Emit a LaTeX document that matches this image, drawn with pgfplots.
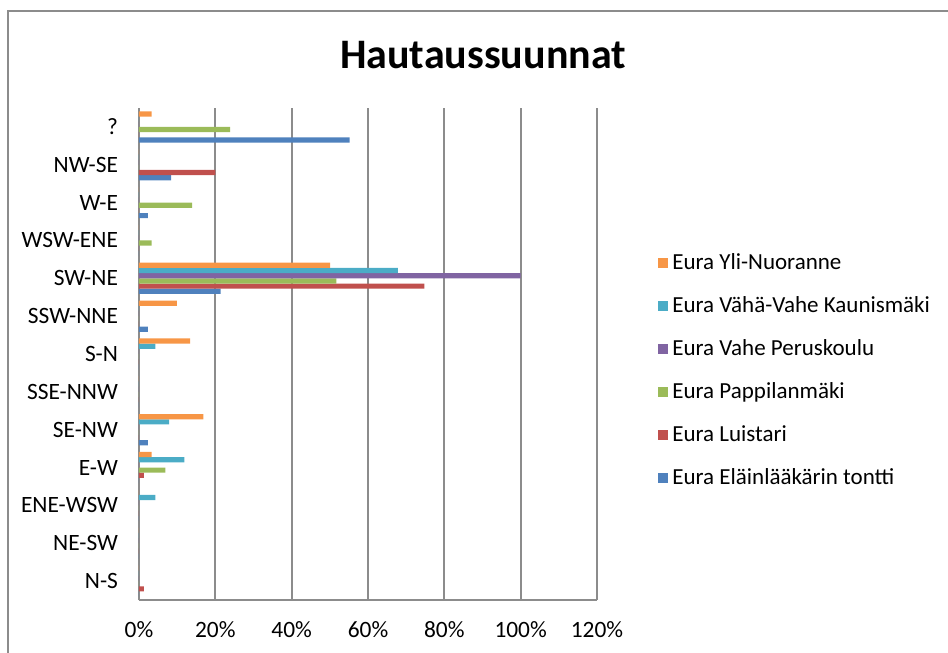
\documentclass[border=0pt]{standalone}
\usepackage{fontspec}
\setmainfont{Carlito}
\usepackage{pgfplots}
\pgfplotsset{compat=1.18}
\definecolor{xblue}{HTML}{4F81BD}
\definecolor{xred}{HTML}{C0504D}
\definecolor{xgreen}{HTML}{9BBB59}
\definecolor{xpurple}{HTML}{8064A2}
\definecolor{xteal}{HTML}{4BACC6}
\definecolor{xorange}{HTML}{F79646}
\definecolor{gridgray}{HTML}{8C8C8C}

% categories: 0 N-S ... 12 ?
\pgfplotstableread{
y  elain luist pappi vahe kauni yli
0  0    1.3  0    0   0    0
1  0    0    0    0   0    0
2  0    0    0    0   4.3  0
3  0    1.3  6.9  0   11.9 3.3
4  2.3  0    0    0   7.9  16.9
5  0    0    0    0   0    0
6  0    0    0    0   4.3  13.4
7  2.3  0    0    0   0    9.9
8  21.4 74.8 51.7 100 67.8 50.1
9  0    0    3.3  0   0    0
10 2.3  0    13.9 0   0    0
11 8.4  20   0    0   0    0
12 55.2 0    23.9 0   0    3.3
}\datatable

\begin{document}
\begin{tikzpicture}[x=1pt,y=1pt]
\begin{axis}[
    name=ax, at={(0,0)}, anchor=south west,
    scale only axis, width=229pt, height=246pt,
    xbar=0pt, bar width=2.6pt,
    xmin=0, xmax=120, xtick={0,20,...,120},
    xticklabel={\pgfmathprintnumber{\tick}\%},
    ymin=-0.5, ymax=12.5, ytick={0,...,12},
    yticklabels={N-S,NE-SW,ENE-WSW,E-W,SE-NW,SSE-NNW,S-N,SSW-NNE,SW-NE,WSW-ENE,W-E,NW-SE,?},
    axis x line*=bottom, axis y line*=left,
    axis line style={gridgray, line width=0.9pt, -},
    major tick length=0pt,
    xmajorgrids, grid style={gridgray, line width=0.9pt},
    tick label style={font=\fontsize{11.7}{14}\selectfont, text=black},
    /pgf/number format/assume math mode=true,
    xticklabel style={yshift=-7pt},
    yticklabel style={xshift=-7pt},
    legend style={draw=none, at={(1.12,0.467)}, anchor=west,
      font=\fontsize{11.5}{13}\selectfont, row sep=8pt,
      legend cell align=left},
    legend image code/.code={\fill[#1] (0pt,-2.5pt) rectangle (5pt,2.5pt);},
    reverse legend,
    every axis plot/.append style={draw=none},
]
\addplot[fill=xblue] table[x=elain,y=y] {\datatable};
\addlegendentry{Eura Eläinlääkärin tontti}
\addplot[fill=xred] table[x=luist,y=y] {\datatable};
\addlegendentry{Eura Luistari}
\addplot[fill=xgreen] table[x=pappi,y=y] {\datatable};
\addlegendentry{Eura Pappilanmäki}
\addplot[fill=xpurple] table[x=vahe,y=y] {\datatable};
\addlegendentry{Eura Vahe Peruskoulu}
\addplot[fill=xteal] table[x=kauni,y=y] {\datatable};
\addlegendentry{Eura Vähä-Vahe Kaunismäki}
\addplot[fill=xorange] table[x=yli,y=y] {\datatable};
\addlegendentry{Eura Yli-Nuoranne}
\end{axis}
% pixel (px,py) -> ((px-139)/2, (600-py)/2)
\useasboundingbox (-69.5,-26.5) rectangle (404.5,300);
\draw[gridgray, line width=0.9pt] (-65.5,-26.5) -- (-65.5,294.5) -- (404.5,294.5);
\node[font=\bfseries\fontsize{21}{24}\selectfont] at (172,272.5) {Hautaussuunnat};
\end{tikzpicture}
\end{document}
